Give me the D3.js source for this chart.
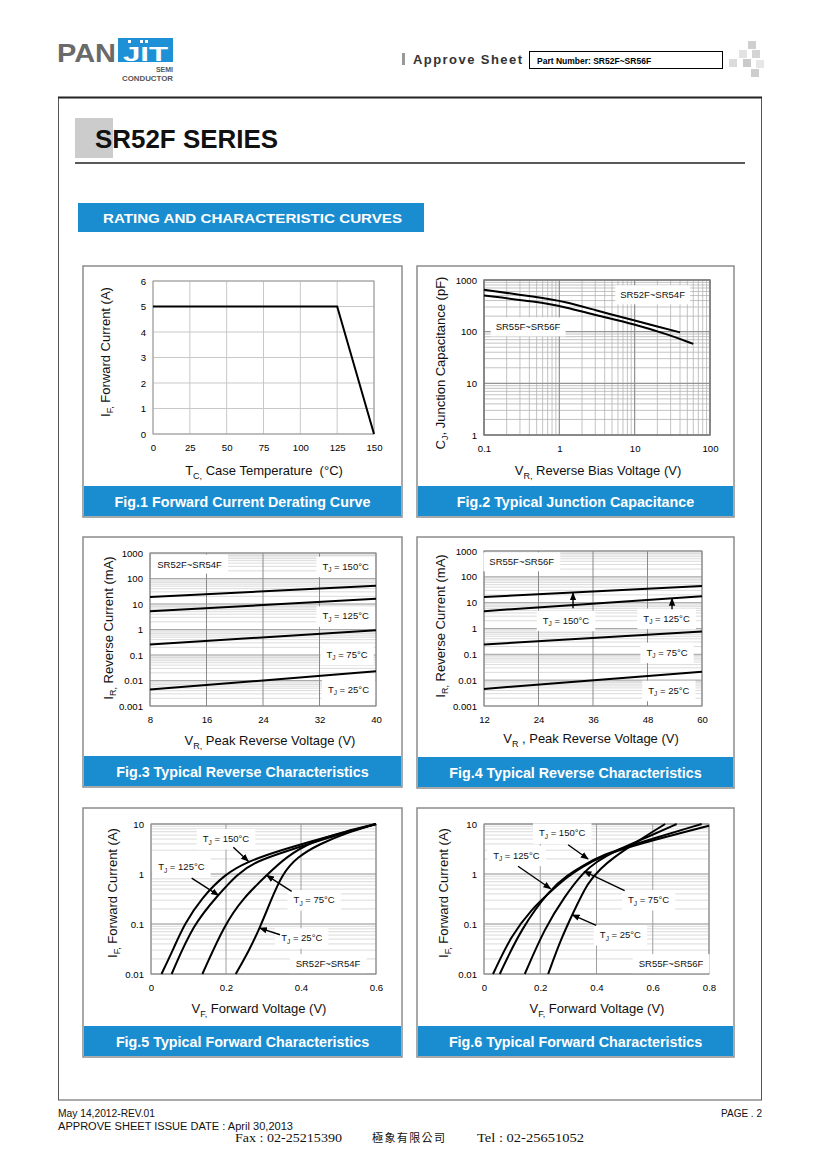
<!DOCTYPE html>
<html>
<head>
<meta charset="utf-8">
<script src="https://cdn.jsdelivr.net/npm/d3@7"></script>
<style>
body { margin: 0; background: #fff; }
svg { display: block; }
</style>
</head>
<body>
<svg id="page" width="820" height="1160"></svg>
<script>
// ---------- data ----------
// Fig.1 derating
var fig1Temp = [0, 125, 150];
var fig1Current = [5, 5, 0];
var fig1XTicks = [0, 25, 50, 75, 100, 125, 150];
var fig1YTicks = [0, 1, 2, 3, 4, 5, 6];

// Fig.2 junction capacitance
var fig2V5254 = [0.1, 0.5, 1.2, 3, 10, 20, 40];
var fig2C5254 = [645, 470, 380, 260, 165, 125, 97];
var fig2V5556 = [0.1, 0.5, 1.2, 3, 10, 30, 60];
var fig2C5556 = [500, 380, 300, 210, 140, 85, 58];
var fig2XTicks = [0.1, 1, 10, 100];
var fig2YTicks = [1, 10, 100, 1000];

// Fig.3 reverse, SR52F~SR54F
var fig3Vr = [8, 40];
var fig3Ir150 = [19, 52];
var fig3Ir125 = [5.2, 16];
var fig3Ir75 = [0.26, 0.93];
var fig3Ir25 = [0.0044, 0.023];
var fig3XTicks = [8, 16, 24, 32, 40];

// Fig.4 reverse, SR55F~SR56F
var fig4Vr = [12, 60];
var fig4Ir150 = [16.6, 44];
var fig4Ir125 = [4.7, 17.7];
var fig4Ir75 = [0.24, 0.76];
var fig4Ir25 = [0.0046, 0.021];
var fig4XTicks = [12, 24, 36, 48, 60];
var revYTicks = [0.001, 0.01, 0.1, 1, 10, 100, 1000];

// Fig.5 forward, SR52F~SR54F
var fig5Vf150 = [0.028, 0.06, 0.089, 0.135, 0.197, 0.26, 0.34, 0.455, 0.6];
var fig5If150 = [0.01, 0.032, 0.1, 0.33, 1.0, 1.8, 2.9, 5.2, 10];
var fig5Vf125 = [0.055, 0.113, 0.178, 0.23, 0.28, 0.37, 0.468, 0.6];
var fig5If125 = [0.01, 0.1, 0.37, 1.0, 1.8, 3.0, 5.2, 10];
var fig5Vf75 = [0.137, 0.197, 0.246, 0.308, 0.36, 0.43, 0.517, 0.6];
var fig5If75 = [0.01, 0.1, 0.33, 0.94, 2.2, 4.5, 7.1, 10];
var fig5Vf25 = [0.226, 0.262, 0.29, 0.32, 0.35, 0.39, 0.45, 0.52, 0.6];
var fig5If25 = [0.01, 0.03, 0.083, 0.3, 1.0, 2.2, 4.0, 6.6, 10];
var fig5XTicks = [0, 0.2, 0.4, 0.6];

// Fig.6 forward, SR55F~SR56F
var fig6Vf150 = [0.032, 0.097, 0.168, 0.239, 0.299, 0.345, 0.42, 0.55, 0.8];
var fig6If150 = [0.01, 0.059, 0.194, 0.46, 0.9, 1.35, 2.3, 4.0, 9.2];
var fig6Vf125 = [0.056, 0.133, 0.237, 0.299, 0.35, 0.42, 0.55, 0.774];
var fig6If125 = [0.01, 0.083, 0.51, 0.97, 1.45, 2.4, 4.2, 10];
var fig6Vf75 = [0.145, 0.216, 0.287, 0.356, 0.4, 0.46, 0.55, 0.685];
var fig6If75 = [0.01, 0.083, 0.36, 1.13, 1.75, 2.8, 4.6, 10];
var fig6Vf25 = [0.228, 0.275, 0.314, 0.37, 0.417, 0.45, 0.55, 0.644];
var fig6If25 = [0.01, 0.052, 0.154, 0.71, 1.31, 1.94, 4.7, 10];
var fig6XTicks = [0, 0.2, 0.4, 0.6, 0.8];
var fwdYTicks = [0.01, 0.1, 1, 10];

// annotations, in data units: [text, x, y]  and arrows [x1, y1, x2, y2]
var fig2Labels = [["SR52F~SR54F", 17.3, 513], ["SR55F~SR56F", 0.384, 123]];
var fig3Labels = [["150°C", 35.7, 301], ["125°C", 35.7, 3.38], ["75°C", 35.9, 0.107], ["25°C", 36.1, 0.0045]];
var fig4Labels = [["150°C", 30.05, 2.07], ["125°C", 52.2, 2.48], ["75°C", 52.3, 0.12], ["25°C", 52.7, 0.004]];
var fig4Arrows = [[31.6, 6.05, 31.6, 23.5], [53.4, 5.53, 53.4, 14.5]];
var fig5Labels = [["150°C", 0.2, 5.08], ["125°C", 0.081, 1.38], ["75°C", 0.435, 0.306], ["25°C", 0.402, 0.0525]];
var fig5Arrows = [[0.2195, 3.42, 0.2595, 1.8], [0.1085, 0.83, 0.18, 0.375], [0.375, 0.451, 0.3085, 0.942], [0.344, 0.061, 0.29, 0.083]];
var fig6Labels = [["150°C", 0.278, 6.6], ["125°C", 0.115, 2.37], ["75°C", 0.585, 0.306], ["25°C", 0.485, 0.061]];
var fig6Arrows = [[0.299, 3.85, 0.37, 2.0], [0.121, 1.43, 0.237, 0.508], [0.5, 0.463, 0.356, 1.13], [0.399, 0.094, 0.314, 0.153]];

// ---------- page ----------
var FONT = "'Liberation Sans', Arial, Helvetica, sans-serif";
var BLUE = "#1a8dd0";
var svg = d3.select("#page").style("font-family", FONT);

svg.append("defs").append("marker")
    .attr("id", "arrow")
    .attr("viewBox", "0 0 10 10")
    .attr("refX", 9).attr("refY", 5)
    .attr("markerUnits", "userSpaceOnUse")
    .attr("markerWidth", 8).attr("markerHeight", 8)
    .attr("orient", "auto")
    .append("path").attr("d", "M0,1L10,5L0,9z").attr("fill", "#000");

// header: logo
svg.append("text").attr("x", 57).attr("y", 62).attr("font-size", 26.5).attr("font-weight", "bold")
    .attr("fill", "#6a6a6a").attr("textLength", 59).attr("lengthAdjust", "spacingAndGlyphs").text("PAN");
svg.append("rect").attr("x", 118).attr("y", 38).attr("width", 55).attr("height", 24).attr("fill", "#1e91d6");
svg.append("text").attr("x", 123).attr("y", 61).attr("font-size", 21).attr("font-weight", "bold")
    .attr("fill", "#fff").attr("textLength", 45).attr("lengthAdjust", "spacingAndGlyphs").text("JIT");
[[128, 40], [140, 40], [145, 40]].forEach(function (p) {
    svg.append("rect").attr("x", p[0]).attr("y", p[1]).attr("width", 3).attr("height", 3).attr("fill", "#fff");
});
svg.append("text").attr("x", 173).attr("y", 72).attr("text-anchor", "end").attr("font-size", 7)
    .attr("font-weight", "bold").attr("fill", "#555").text("SEMI");
svg.append("text").attr("x", 173).attr("y", 81).attr("text-anchor", "end").attr("font-size", 7)
    .attr("font-weight", "bold").attr("fill", "#555").attr("textLength", 51).attr("lengthAdjust", "spacingAndGlyphs").text("CONDUCTOR");

// header: approve sheet + part number
svg.append("rect").attr("x", 402).attr("y", 53).attr("width", 3).attr("height", 12).attr("fill", "#999");
svg.append("text").attr("x", 413).attr("y", 64).attr("font-size", 13).attr("font-weight", "bold")
    .attr("fill", "#333").attr("textLength", 109).attr("lengthAdjust", "spacing").text("Approve Sheet");
svg.append("rect").attr("x", 529.5).attr("y", 51.5).attr("width", 193).attr("height", 17)
    .attr("fill", "none").attr("stroke", "#000").attr("stroke-width", 1);
svg.append("text").attr("x", 537).attr("y", 63.5).attr("font-size", 8.5).attr("font-weight", "bold")
    .attr("fill", "#000").text("Part Number: SR52F~SR56F");
[[748, 41, "#cfcfcf"], [739, 50, "#e2e2e2"], [752, 50, "#d4d4d4"], [729, 59, "#dcdcdc"],
 [743, 59, "#cacaca"], [756, 60, "#e6e6e6"], [751, 69, "#cdcdcd"]].forEach(function (s) {
    svg.append("rect").attr("x", s[0]).attr("y", s[1]).attr("width", 8).attr("height", 8).attr("fill", s[2]);
});

// main frame
svg.append("rect").attr("x", 58.5).attr("y", 97.5).attr("width", 703).attr("height", 1002.5)
    .attr("fill", "none").attr("stroke", "#555").attr("stroke-width", 1);
svg.append("line").attr("x1", 58).attr("x2", 762).attr("y1", 97.5).attr("y2", 97.5)
    .attr("stroke", "#222").attr("stroke-width", 2);

// title block
svg.append("rect").attr("x", 75).attr("y", 118).attr("width", 38).attr("height", 40).attr("fill", "#cccccc");
svg.append("text").attr("x", 95).attr("y", 148).attr("font-size", 25).attr("font-weight", "bold")
    .attr("fill", "#111").attr("textLength", 183).attr("lengthAdjust", "spacingAndGlyphs").text("SR52F SERIES");
svg.append("line").attr("x1", 75).attr("x2", 745).attr("y1", 163).attr("y2", 163)
    .attr("stroke", "#222").attr("stroke-width", 1.5);
svg.append("rect").attr("x", 78).attr("y", 203).attr("width", 346).attr("height", 29).attr("fill", BLUE);
svg.append("text").attr("x", 103).attr("y", 223).attr("font-size", 13).attr("font-weight", "bold")
    .attr("fill", "#fff").attr("textLength", 299).attr("lengthAdjust", "spacingAndGlyphs")
    .text("RATING AND CHARACTERISTIC CURVES");

// footer
svg.append("text").attr("x", 58).attr("y", 1117).attr("font-size", 10).attr("fill", "#111")
    .attr("textLength", 97).attr("lengthAdjust", "spacingAndGlyphs").text("May 14,2012-REV.01");
svg.append("text").attr("x", 58).attr("y", 1130).attr("font-size", 10).attr("fill", "#111")
    .attr("textLength", 235).attr("lengthAdjust", "spacingAndGlyphs").text("APPROVE SHEET ISSUE DATE : April 30,2013");
svg.append("text").attr("x", 762).attr("y", 1117).attr("font-size", 10).attr("fill", "#111")
    .attr("text-anchor", "end").text("PAGE . 2");
svg.append("text").attr("x", 235).attr("y", 1142).attr("font-size", 12).attr("fill", "#111")
    .attr("font-family", "'Liberation Serif', serif").attr("textLength", 107).attr("lengthAdjust", "spacingAndGlyphs")
    .text("Fax : 02-25215390");
svg.append("text").attr("x", 372).attr("y", 1142).attr("font-size", 11).attr("fill", "#111")
    .attr("font-family", "'Noto Sans CJK TC', sans-serif").attr("textLength", 73).attr("lengthAdjust", "spacing")
    .text("極象有限公司");
svg.append("text").attr("x", 477).attr("y", 1142).attr("font-size", 12).attr("fill", "#111")
    .attr("font-family", "'Liberation Serif', serif").attr("textLength", 107).attr("lengthAdjust", "spacingAndGlyphs")
    .text("Tel : 02-25651052");

// ---------- helpers ----------
var fmt = d3.format("~g");
var smooth = d3.curveBasis;

function panel(x, y, w, h, caption) {
    svg.append("rect").attr("x", x).attr("y", y).attr("width", w).attr("height", h)
        .attr("fill", "#fff").attr("stroke", "#8c8c8c").attr("stroke-width", 1.5);
    svg.append("rect").attr("x", x + 1).attr("y", y + h - 31).attr("width", w - 2).attr("height", 30).attr("fill", BLUE);
    svg.append("text").attr("x", x + w / 2).attr("y", y + h - 10).attr("text-anchor", "middle")
        .attr("font-size", 14.3).attr("font-weight", "bold").attr("fill", "#fff").text(caption);
}

function logGrid(lo, hi) {
    var out = [];
    for (var d = lo; d < hi * 0.999; d *= 10)
        for (var k = 1; k < 10; k++) out.push(d * k);
    out.push(hi);
    return out;
}

function vGrid(g, x, y, vals, color, w) {
    g.append("g").selectAll("line").data(vals).enter().append("line")
        .attr("x1", function (d) { return x(d); }).attr("x2", function (d) { return x(d); })
        .attr("y1", y.range()[0]).attr("y2", y.range()[1])
        .attr("stroke", color).attr("stroke-width", w);
}

function hGrid(g, x, y, vals, color, w) {
    g.append("g").selectAll("line").data(vals).enter().append("line")
        .attr("y1", function (d) { return y(d); }).attr("y2", function (d) { return y(d); })
        .attr("x1", x.range()[0]).attr("x2", x.range()[1])
        .attr("stroke", color).attr("stroke-width", w);
}

function frame(g, x, y, color, w) {
    g.append("rect").attr("x", x.range()[0]).attr("y", y.range()[1])
        .attr("width", x.range()[1] - x.range()[0]).attr("height", y.range()[0] - y.range()[1])
        .attr("fill", "none").attr("stroke", color).attr("stroke-width", w);
}

function axes(g, x, y, xTicks, yTicks, xPad, yPad) {
    var xa = g.append("g").attr("transform", "translate(0," + y.range()[0] + ")")
        .call(d3.axisBottom(x).tickValues(xTicks).tickSize(0).tickPadding(xPad).tickFormat(fmt));
    var ya = g.append("g").attr("transform", "translate(" + x.range()[0] + ",0)")
        .call(d3.axisLeft(y).tickValues(yTicks).tickSize(0).tickPadding(yPad).tickFormat(fmt));
    [xa, ya].forEach(function (a) {
        a.select(".domain").remove();
        a.attr("font-size", 9.6).attr("font-family", FONT);
        a.selectAll("text").attr("fill", "#000");
    });
}

// axis title with a subscript: base + sub + rest
function title(cx, cy, rotate, base, sub, rest) {
    var size = 13;
    var t = svg.append("text")
        .attr("transform", rotate ? "translate(" + (cx + size * 0.35) + "," + cy + ") rotate(-90)"
                                  : "translate(" + cx + "," + cy + ")")
        .attr("text-anchor", "middle").attr("font-size", size).attr("fill", "#111")
        .style("white-space", "pre");
    t.append("tspan").text(base);
    t.append("tspan").attr("dy", 3.5).attr("font-size", 9).text(sub);
    t.append("tspan").attr("dy", -3.5).text(rest);
}

// small label with white background box
function boxLabel(g, px, py, base, sub, rest, padX, padY) {
    var t = g.append("text").attr("x", px).attr("y", py).attr("dy", "0.35em")
        .attr("text-anchor", "middle").attr("font-size", 9.5).attr("fill", "#111");
    t.append("tspan").text(base);
    if (sub) {
        t.append("tspan").attr("dy", 2.5).attr("font-size", 6.5).text(sub);
        t.append("tspan").attr("dy", -2.5).text(rest);
    }
    var bb = t.node().getBBox();
    g.insert("rect", function () { return t.node(); })
        .attr("x", bb.x - padX).attr("y", bb.y - padY)
        .attr("width", bb.width + 2 * padX).attr("height", bb.height + 2 * padY)
        .attr("fill", "#fff");
}

function tjLabels(g, x, y, labels, padX, padY) {
    labels.forEach(function (l) {
        boxLabel(g, x(l[1]), y(l[2]), "T", "J", " = " + l[0], padX, padY);
    });
}

function arrows(g, x, y, list) {
    g.append("g").selectAll("line").data(list).enter().append("line")
        .attr("x1", function (d) { return x(d[0]); }).attr("y1", function (d) { return y(d[1]); })
        .attr("x2", function (d) { return x(d[2]); }).attr("y2", function (d) { return y(d[3]); })
        .attr("stroke", "#000").attr("stroke-width", 1.4).attr("marker-end", "url(#arrow)");
}

function curve(g, x, y, xs, ys, interp) {
    var line = d3.line()
        .x(function (d) { return x(d[0]); })
        .y(function (d) { return y(d[1]); })
        .curve(interp || smooth);
    g.append("path").datum(d3.zip(xs, ys)).attr("d", line)
        .attr("fill", "none").attr("stroke", "#000").attr("stroke-width", 2);
}

// ---------- Fig.1 ----------
function createFig1() {
    panel(83, 266, 319, 251, "Fig.1 Forward Current Derating Curve");
    var g = svg.append("g");
    var x = d3.scaleLinear().domain([0, 150]).range([153, 374]);
    var y = d3.scaleLinear().domain([0, 6]).range([434, 281]);
    vGrid(g, x, y, fig1XTicks, "#c8c8c8", 1);
    hGrid(g, x, y, fig1YTicks, "#c8c8c8", 1);
    frame(g, x, y, "#9a9a9a", 1);
    axes(g, x, y, fig1XTicks, fig1YTicks, 10, 7);
    curve(g, x, y, fig1Temp, fig1Current, d3.curveLinear);
    title(105, 352, true, "I", "F,", " Forward Current (A)");
    title(264, 475, false, "T", "C,", " Case Temperature  (°C)");
}

// ---------- Fig.2 ----------
function createFig2() {
    panel(417, 266, 317, 251, "Fig.2 Typical Junction Capacitance");
    var g = svg.append("g");
    var x = d3.scaleLog().domain([0.1, 100]).range([484, 710]);
    var y = d3.scaleLog().domain([1, 1000]).range([435, 280]);
    vGrid(g, x, y, logGrid(0.1, 100), "#b4b4b4", 0.8);
    hGrid(g, x, y, logGrid(1, 1000), "#b4b4b4", 0.8);
    vGrid(g, x, y, fig2XTicks, "#8a8a8a", 1);
    hGrid(g, x, y, fig2YTicks, "#8a8a8a", 1);
    frame(g, x, y, "#7a7a7a", 1.5);
    axes(g, x, y, fig2XTicks, fig2YTicks, 10, 7);
    boxLabel(g, x(fig2Labels[0][1]), y(fig2Labels[0][2]), fig2Labels[0][0], null, null, 5, 4);
    boxLabel(g, x(fig2Labels[1][1]), y(fig2Labels[1][2]), fig2Labels[1][0], null, null, 5, 4);
    curve(g, x, y, fig2V5254, fig2C5254);
    curve(g, x, y, fig2V5556, fig2C5556);
    title(440, 363, true, "C", "J", ", Junction Capacitance (pF)");
    title(598, 475, false, "V", "R,", " Reverse Bias Voltage (V)");
}

// ---------- Fig.3 / Fig.4 ----------
function createReverse(px, caption, xDomain, xRange, yRange, xTicks, vr, s150, s125, s75, s25, seriesName, seriesPos, labels, arrowList, yTitleX, yTitleY, xTitleX, xTitleY, xSub, xRest) {
    panel(px, 537, px === 83 ? 319 : 317, px === 83 ? 250 : 251, caption);
    var g = svg.append("g");
    var x = d3.scaleLinear().domain(xDomain).range(xRange);
    var y = d3.scaleLog().domain([0.001, 1000]).range(yRange);
    hGrid(g, x, y, logGrid(0.001, 1000), "#d2d2d2", 0.8);
    hGrid(g, x, y, revYTicks, "#a8a8a8", 1);
    vGrid(g, x, y, xTicks, "#8a8a8a", 1);
    frame(g, x, y, "#8a8a8a", 1);
    axes(g, x, y, xTicks, revYTicks, 10, 7);
    boxLabel(g, x(seriesPos[0]), y(seriesPos[1]), seriesName, null, null, 6, 4);
    tjLabels(g, x, y, labels, 6, 4);
    [s150, s125, s75, s25].forEach(function (s) { curve(g, x, y, vr, s, d3.curveLinear); });
    if (arrowList) arrows(g, x, y, arrowList);
    title(yTitleX, yTitleY, true, "I", "R,", " Reverse Current (mA)");
    title(xTitleX, xTitleY, false, "V", xSub, xRest);
}

// ---------- Fig.5 / Fig.6 ----------
function createForward(px, caption, xMax, xRange, xTicks, series, seriesName, seriesPos, labels, arrowList, yTitleX, xTitleX) {
    panel(px, 808, px === 83 ? 319 : 317, 249, caption);
    var g = svg.append("g");
    var x = d3.scaleLinear().domain([0, xMax]).range(xRange);
    var y = d3.scaleLog().domain([0.01, 10]).range([974, 824]);
    hGrid(g, x, y, logGrid(0.01, 10), "#d2d2d2", 0.8);
    hGrid(g, x, y, fwdYTicks, "#a0a0a0", 1);
    vGrid(g, x, y, xTicks, "#a0a0a0", 1);
    frame(g, x, y, "#8a8a8a", 1);
    axes(g, x, y, xTicks, fwdYTicks, 10, 7);
    boxLabel(g, x(seriesPos[0]), y(seriesPos[1]), seriesName, null, null, 6, 4);
    tjLabels(g, x, y, labels, 6, 4);
    series.forEach(function (s) { curve(g, x, y, s[0], s[1]); });
    arrows(g, x, y, arrowList);
    title(yTitleX, 893, true, "I", "F,", " Forward Current (A)");
    title(xTitleX, 1013, false, "V", "F,", " Forward Voltage (V)");
}

createFig1();
createFig2();
createReverse(83, "Fig.3 Typical Reverse Characteristics", [8, 40], [150, 376], [706, 553], fig3XTicks,
    fig3Vr, fig3Ir150, fig3Ir125, fig3Ir75, fig3Ir25, "SR52F~SR54F", [13.6, 361], fig3Labels, null,
    108, 628, 270, 745, "R,", " Peak Reverse Voltage (V)");
createReverse(417, "Fig.4 Typical Reverse Characteristics", [12, 60], [484, 702], [706, 551], fig4XTicks,
    fig4Vr, fig4Ir150, fig4Ir125, fig4Ir75, fig4Ir25, "SR55F~SR56F", [20.3, 375], fig4Labels, fig4Arrows,
    440, 626, 591, 743, "R", " , Peak Reverse Voltage (V)");
createForward(83, "Fig.5 Typical Forward Characteristics", 0.6, [151, 376], fig5XTicks,
    [[fig5Vf150, fig5If150], [fig5Vf125, fig5If125], [fig5Vf75, fig5If75], [fig5Vf25, fig5If25]],
    "SR52F~SR54F", [0.472, 0.016], fig5Labels, fig5Arrows, 112, 259);
createForward(417, "Fig.6 Typical Forward Characteristics", 0.8, [484, 709], fig6XTicks,
    [[fig6Vf150, fig6If150], [fig6Vf125, fig6If125], [fig6Vf75, fig6If75], [fig6Vf25, fig6If25]],
    "SR55F~SR56F", [0.665, 0.016], fig6Labels, fig6Arrows, 443, 597);
</script>
</body>
</html>
